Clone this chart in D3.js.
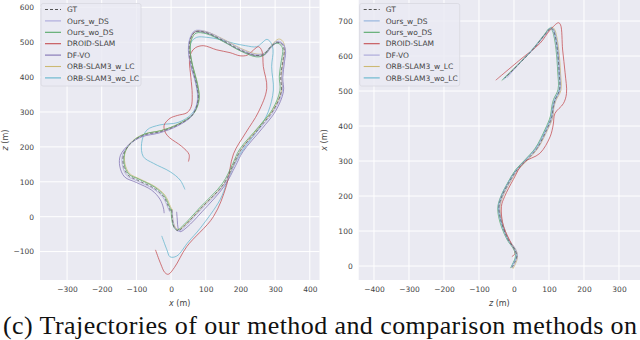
<!DOCTYPE html>
<html>
<head>
<meta charset="utf-8">
<script src="https://cdn.jsdelivr.net/npm/d3@7"></script>
<style>
  body { margin: 0; background: #fff; }
  svg { display: block; }
</style>
</head>
<body>
<div id="chart"></div>
<script>
// legend names
var methods = ["GT", "Ours_w_DS", "Ours_wo_DS", "DROID-SLAM", "DF-VO", "ORB-SLAM3_w_LC", "ORB-SLAM3_wo_LC"];

var leftTicksX = [-300, -200, -100, 0, 100, 200, 300, 400];
var leftTicksY = [-100, 0, 100, 200, 300, 400, 500, 600];
var rightTicksX = [-400, -300, -200, -100, 0, 100, 200, 300];
var rightTicksY = [0, 100, 200, 300, 400, 500, 600, 700];

// left panel: [x, z]
var gtLeft = [[2,20],[4,-10],[10,-32],[20,-40],[40,-25],[84,22],[150,92],[180,150],[200,190],[255,255],[295,305],[318,360],[316,400],[322,445],[326,478],[318,496],[305,500],[288,488],[268,466],[245,462],[200,478],[150,505],[100,528],[70,530],[57,512],[52,478],[60,430],[73,382],[78,335],[62,292],[20,263],[-30,244],[-78,234],[-112,214],[-136,182],[-138,150],[-125,120],[-95,104],[-50,82],[-22,58],[-8,30],[-2,15]];
var oursWLeft = [[4,18],[6,-12],[12,-34],[22,-42],[42,-27],[86,20],[152,90],[183,150],[203,190],[258,255],[298,305],[321,360],[319,400],[325,445],[329,478],[321,498],[307,503],[289,490],[268,468],[244,465],[200,481],[150,508],[100,531],[68,533],[55,514],[50,478],[58,430],[71,382],[76,335],[60,290],[18,261],[-32,242],[-80,232],[-115,212],[-139,180],[-141,150],[-128,118],[-97,102],[-52,80],[-24,56],[-10,28],[-4,14]];
var oursWoLeft = [[0,22],[2,-8],[8,-30],[18,-38],[38,-22],[82,25],[148,95],[178,152],[197,192],[252,257],[292,307],[314,362],[312,402],[318,447],[322,480],[314,494],[302,497],[286,485],[266,462],[246,458],[202,474],[152,501],[102,524],[72,526],[60,510],[55,478],[63,430],[76,382],[81,335],[64,294],[22,266],[-28,247],[-76,237],[-110,217],[-133,185],[-135,150],[-122,122],[-92,107],[-48,85],[-20,60],[-6,32],[0,18]];
var droidLeft = [[-45,-95],[-30,-135],[-18,-160],[-8,-165],[10,-145],[45,-86],[122,0],[160,90],[180,180],[215,240],[252,300],[276,368],[266,430],[262,475],[252,487],[238,478],[220,463],[199,461],[170,470],[132,478],[93,490],[70,484],[58,470],[53,448],[57,400],[61,350],[58,315],[46,298],[18,290],[-3,282],[-20,262],[-16,240],[-4,226],[30,202],[52,178],[50,158]];
var dfvoLeft = [[16,14],[18,-10],[20,-32],[26,-43],[46,-30],[90,15],[154,88],[186,146],[207,186],[262,252],[301,302],[324,358],[322,398],[327,444],[330,476],[322,495],[308,499],[290,487],[270,464],[246,461],[200,476],[150,503],[100,527],[68,529],[55,510],[50,476],[58,428],[72,380],[77,333],[60,289],[18,260],[-34,240],[-84,229],[-120,208],[-146,176],[-148,145],[-134,114],[-100,98],[-56,76],[-32,50],[-22,25],[-20,10]];
var orbWLeft = [[3,22],[5,-8],[12,-30],[22,-37],[42,-22],[88,26],[154,95],[184,155],[204,195],[258,262],[298,312],[320,368],[318,405],[324,450],[328,482],[322,503],[310,509],[292,494],[272,470],[248,466],[202,482],[152,508],[102,530],[72,532],[59,514],[54,480],[62,432],[75,385],[80,338],[64,295],[22,266],[-28,247],[-76,237],[-110,218],[-132,186],[-133,152],[-120,124],[-90,108],[-46,86],[-18,62],[-4,34],[2,20]];
var orbWoLeft = [[-27,-55],[-12,-95],[-3,-115],[16,-113],[50,-72],[84,-33],[141,48],[160,95],[178,140],[205,188],[255,255],[280,300],[295,363],[290,430],[294,478],[287,500],[276,508],[262,498],[247,487],[215,490],[180,497],[140,508],[103,514],[74,514],[58,500],[55,478],[62,430],[74,380],[78,335],[60,295],[20,270],[-32,263],[-70,248],[-85,210],[-80,172],[-51,153],[-3,129],[26,105],[40,78]];

// right panel: [z, x]
var gtRight = [[-6,-5],[2,10],[8,27],[3,46],[-16,74],[-30,107],[-40,141],[-43,170],[-35,198],[-16,236],[8,274],[36,303],[65,335],[93,389],[108,426],[112,454],[117,474],[130,503],[129,552],[124,617],[118,655],[112,674],[106,680],[93,667],[55,620],[17,580],[-26,537]];
var oursWRight = [[-8,-3],[0,12],[6,28],[1,47],[-18,75],[-32,108],[-42,142],[-45,170],[-37,198],[-18,236],[6,274],[34,304],[63,337],[91,390],[106,427],[110,455],[115,475],[128,504],[127,553],[122,618],[116,656],[110,674],[103,679],[90,664],[52,618],[14,578],[-30,532]];
var oursWoRight = [[-10,-6],[-2,10],[4,27],[0,46],[-19,74],[-34,107],[-44,141],[-46,170],[-38,198],[-19,236],[4,274],[32,304],[61,337],[89,391],[104,428],[108,456],[113,476],[126,505],[125,554],[120,619],[114,657],[108,675],[101,679],[88,663],[50,616],[12,576],[-35,530]];
var droidRight = [[-6,27],[3,36],[-6,60],[-30,113],[-36,170],[-27,198],[-2,247],[27,295],[74,322],[103,369],[112,403],[117,436],[141,464],[150,493],[146,552],[139,617],[133,689],[127,695],[103,674],[74,636],[17,589],[-52,531]];
var dfvoRight = [[-4,-4],[4,12],[10,28],[5,47],[-14,75],[-28,108],[-38,142],[-41,170],[-33,198],[-14,236],[10,274],[38,304],[67,337],[95,390],[110,426],[113,452],[119,474],[132,503],[131,552],[126,617],[120,655],[114,674],[108,680],[95,667],[57,622],[19,582],[-20,538]];
var orbWRight = [[-3,-8],[5,8],[10,25],[6,45],[-13,73],[-27,106],[-37,140],[-40,170],[-32,198],[-13,236],[11,274],[39,303],[68,336],[96,389],[111,425],[114,453],[120,473],[134,502],[133,551],[128,617],[122,656],[116,676],[109,682],[96,669],[58,624],[20,584],[-24,540]];
var orbWoRight = [[-7,-2],[1,14],[7,29],[2,48],[-17,76],[-31,109],[-41,143],[-44,172],[-36,200],[-17,238],[7,276],[35,306],[64,339],[92,392],[107,429],[112,457],[118,477],[131,506],[130,555],[125,620],[119,658],[113,677],[106,682],[93,668],[55,620],[17,580],[-30,535]];

function init(){
    var w = 640, h = 340;
    var svg = d3.select("#chart").append("svg")
        .attr("width", w).attr("height", h);

    var leftColors = ["#555555", "#aaa8dc", "#55a868", "#c44e52", "#8172b3", "#ccb974", "#64b5cd"];
    var rightColors = ["#555555", "#8fb0dc", "#55a868", "#c44e52", "#a9a6d8", "#ccb974", "#64b5cd"];

    drawPanel(svg, {
        x0: 40, x1: 319.5, y0: 0, y1: 280,
        xDomain: [-378, 428], yDomain: [-181.4, 620.9],
        xTicks: leftTicksX, yTicks: leftTicksY,
        xLabel: "x", yLabel: "z",
        series: [gtLeft, oursWLeft, oursWoLeft, droidLeft, dfvoLeft, orbWLeft, orbWoLeft],
        colors: leftColors
    });
    drawPanel(svg, {
        x0: 358.7, x1: 640, y0: 0, y1: 280,
        xDomain: [-443.7, 360], yDomain: [-40, 760],
        xTicks: rightTicksX, yTicks: rightTicksY,
        xLabel: "z", yLabel: "x",
        series: [gtRight, oursWRight, oursWoRight, droidRight, dfvoRight, orbWRight, orbWoRight],
        colors: rightColors
    });

    // caption
    svg.append("text")
        .attr("x", 3).attr("y", 334)
        .attr("textLength", 634).attr("lengthAdjust", "spacing")
        .style("font-family", "'Liberation Serif', 'Times New Roman', serif")
        .style("font-size", "26px")
        .attr("fill", "#111")
        .text("(c) Trajectories of our method and comparison methods on");
}

function drawPanel(svg, p){
    var x = d3.scaleLinear().domain(p.xDomain).range([p.x0, p.x1]);
    var y = d3.scaleLinear().domain(p.yDomain).range([p.y1, p.y0]);
    var g = svg.append("g");
    var font = "'DejaVu Sans', sans-serif";

    g.append("rect")
        .attr("x", p.x0).attr("y", p.y0)
        .attr("width", p.x1 - p.x0).attr("height", p.y1 - p.y0)
        .attr("fill", "#eaeaf2");

    var clipId = "clip" + Math.round(p.x0);
    g.append("clipPath").attr("id", clipId).append("rect")
        .attr("x", p.x0).attr("y", p.y0)
        .attr("width", p.x1 - p.x0).attr("height", p.y1 - p.y0);

    // grid
    g.selectAll(".gx").data(p.xTicks).enter().append("line")
        .attr("x1", function(d){ return x(d); }).attr("x2", function(d){ return x(d); })
        .attr("y1", p.y0).attr("y2", p.y1)
        .attr("stroke", "#fff").attr("stroke-width", 1);
    g.selectAll(".gy").data(p.yTicks).enter().append("line")
        .attr("y1", function(d){ return y(d); }).attr("y2", function(d){ return y(d); })
        .attr("x1", p.x0).attr("x2", p.x1)
        .attr("stroke", "#fff").attr("stroke-width", 1);

    // axes without tick marks, seaborn style
    var xAxis = g.append("g").attr("transform", "translate(0," + p.y1 + ")")
        .call(d3.axisBottom(x).tickValues(p.xTicks).tickSize(0).tickPadding(7).tickFormat(d3.format("d")));
    var yAxis = g.append("g").attr("transform", "translate(" + p.x0 + ",0)")
        .call(d3.axisLeft(y).tickValues(p.yTicks).tickSize(0).tickPadding(6).tickFormat(d3.format("d")));
    [xAxis, yAxis].forEach(function(a){
        a.select(".domain").remove();
        a.selectAll("text").style("font-family", font).style("font-size", "7.5px").attr("fill", "#444");
    });

    // axis titles
    var xt = g.append("text")
        .attr("x", (p.x0 + p.x1) / 2).attr("y", 306)
        .attr("text-anchor", "middle")
        .style("font-family", font).style("font-size", "8px").attr("fill", "#444");
    xt.append("tspan").style("font-style", "italic").text(p.xLabel);
    xt.append("tspan").text(" (m)");
    var yt = g.append("text")
        .attr("transform", "translate(" + (p.x0 - 32) + "," + ((p.y0 + p.y1) / 2) + ") rotate(-90)")
        .attr("text-anchor", "middle")
        .style("font-family", font).style("font-size", "8px").attr("fill", "#444");
    yt.append("tspan").style("font-style", "italic").text(p.yLabel);
    yt.append("tspan").text(" (m)");

    // trajectories
    var line = d3.line()
        .x(function(d){ return x(d[0]); })
        .y(function(d){ return y(d[1]); })
        .curve(d3.curveCatmullRom.alpha(0.5));
    var lines = g.append("g").attr("clip-path", "url(#" + clipId + ")");
    // estimated ones first, GT on top
    for (var i = p.series.length - 1; i >= 0; i--){
        lines.append("path")
            .datum(p.series[i])
            .attr("d", line)
            .attr("fill", "none")
            .attr("stroke", p.colors[i])
            .attr("stroke-opacity", i == 0 ? 0.9 : 0.85)
            .attr("stroke-width", i == 0 ? 0.8 : 0.9)
            .attr("stroke-dasharray", i == 0 ? "3,2" : null);
    }

    // legend
    var lx = p.x0 + 1, ly = 3.5;
    var leg = g.append("g");
    leg.append("rect")
        .attr("x", lx).attr("y", ly).attr("width", 100).attr("height", 82.5)
        .attr("rx", 2).attr("ry", 2)
        .attr("fill", "#eaeaf2").attr("fill-opacity", 0.8)
        .attr("stroke", "#d8d8e0").attr("stroke-width", 0.8);
    var items = leg.selectAll(".item").data(methods).enter().append("g")
        .attr("transform", function(d, i){ return "translate(" + lx + "," + (ly + 6 + i * 11.4) + ")"; });
    items.append("line")
        .attr("x1", 4).attr("x2", 20).attr("y1", 0).attr("y2", 0)
        .attr("stroke", function(d, i){ return p.colors[i]; })
        .attr("stroke-width", 1.1)
        .attr("stroke-dasharray", function(d, i){ return i == 0 ? "3,2" : null; });
    items.append("text")
        .attr("x", 26).attr("y", 2.7)
        .style("font-family", font).style("font-size", "7.5px").attr("fill", "#444")
        .text(function(d){ return d; });
}

window.onload = init;
</script>
</body>
</html>
